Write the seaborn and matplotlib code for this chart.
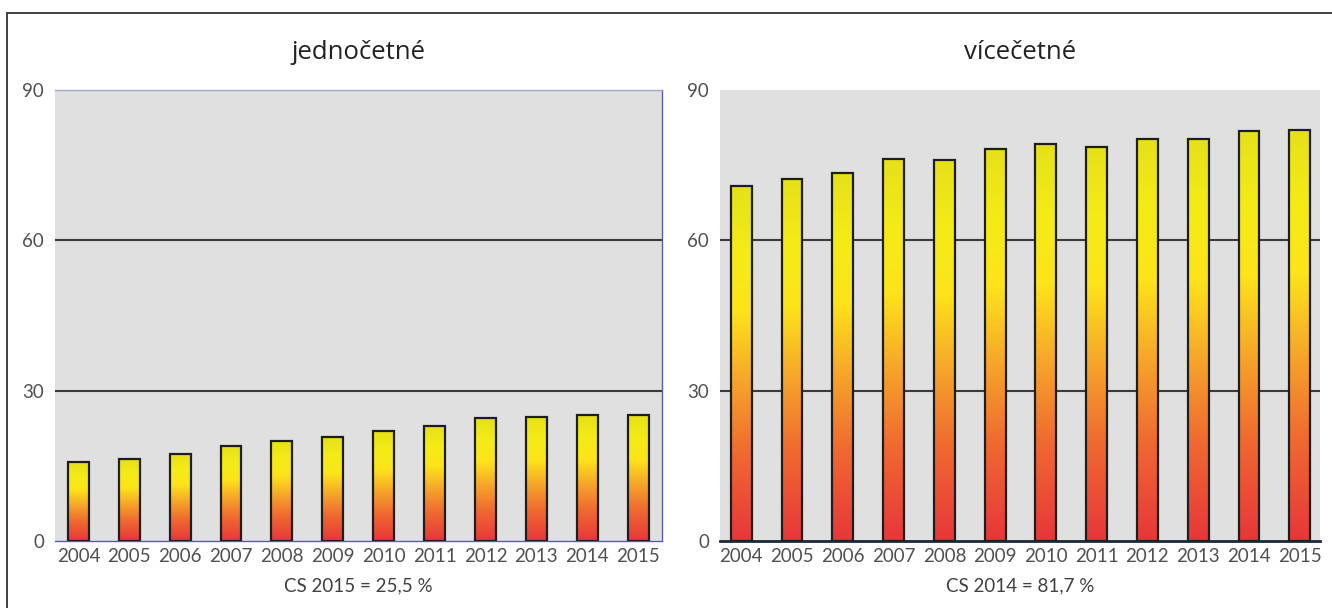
import numpy as np
import pandas as pd
import matplotlib
matplotlib.use("Agg")
import matplotlib.pyplot as plt
from matplotlib.colors import LinearSegmentedColormap
from matplotlib.patches import Rectangle
import seaborn as sns

# ==========================================
# Data
# ==========================================

years = ["2004", "2005", "2006", "2007", "2008", "2009",
         "2010", "2011", "2012", "2013", "2014", "2015"]

single_values = [15.7, 16.3, 17.3, 18.9, 20.0, 20.7,
                 22.0, 23.0, 24.5, 24.8, 25.1, 25.1]

multiple_values = [70.8, 72.2, 73.5, 76.3, 76.0, 78.3,
                   79.3, 78.7, 80.3, 80.3, 81.8, 82.1]

panel_titles = ["jednočetné", "vícečetné"]
panel_notes = ["CS 2015 = 25,5 %", "CS 2014 = 81,7 %"]

y_ticks = [0, 30, 60, 90]
grid_levels = [30, 60]

# ==========================================
# Style
# ==========================================

sns.set_theme(style="white")
plt.rcParams["font.family"] = ["Lato", "DejaVu Sans"]

bar_cmap = LinearSegmentedColormap.from_list(
    "bar_grad",
    [
        (0.00, "#e8363a"),
        (0.25, "#f06a30"),
        (0.45, "#f6a52a"),
        (0.65, "#fde41a"),
        (0.82, "#f4ec16"),
        (1.00, "#e6e01a"),
    ]
)
gradient = np.linspace(0, 1, 256).reshape(-1, 1)

fig = plt.figure(figsize=(13.32, 6.08), dpi=100)

# outer frame
fig.patches.append(Rectangle(
    (7 / 1332, -0.1), 1.2, 1 - 13 / 608 + 0.1,
    transform=fig.transFigure, fill=False,
    edgecolor="#333333", linewidth=1.3
))

ax_left = fig.add_axes([55 / 1332, 1 - 541 / 608, 607 / 1332, 451 / 608])
ax_right = fig.add_axes([720 / 1332, 1 - 541 / 608, 600 / 1332, 451 / 608])

panels = [
    (ax_left, single_values, (-0.46, 11.47)),
    (ax_right, multiple_values, (-0.42, 11.40)),
]

for i, (ax, values, xlim) in enumerate(panels):
    df = pd.DataFrame({"year": years, "value": values})

    ax.set_facecolor("#e0e0e1")

    for level in grid_levels:
        ax.axhline(level, color="#3a3a3a", linewidth=1.5, zorder=0.5)

    sns.barplot(
        data=df,
        x="year",
        y="value",
        order=years,
        width=0.41,
        color="#f6a52a",
        edgecolor="#1e1e1e",
        linewidth=1.6,
        ax=ax,
        zorder=3
    )

    # vertical gradient inside every bar
    for patch in ax.patches:
        x0 = patch.get_x()
        w = patch.get_width()
        h = patch.get_height()
        im = ax.imshow(
            gradient,
            extent=[x0, x0 + w, 0, h],
            origin="lower",
            aspect="auto",
            cmap=bar_cmap,
            zorder=2.5
        )
        im.set_clip_path(patch)
        patch.set_facecolor("none")

    ax.set_xlim(*xlim)
    ax.set_ylim(0, 90)
    ax.set_yticks(y_ticks)
    ax.set_xlabel("")
    ax.set_ylabel("")
    ax.tick_params(axis="both", length=0, labelsize=13.5,
                   labelcolor="#505050")
    ax.tick_params(axis="y", pad=8)
    ax.tick_params(axis="x", pad=5)

    ax.set_title(panel_titles[i], fontsize=18.5, color="#222222",
                 pad=22, family=["Open Sans", "DejaVu Sans"])
    ax.text(0.5, -0.08, panel_notes[i], transform=ax.transAxes,
            ha="center", va="top", fontsize=13.5, color="#404040")

    for side in ["top", "right", "left", "bottom"]:
        ax.spines[side].set_visible(False)

# left panel has a thin bluish frame on top, right and bottom
for side in ["top", "right", "bottom"]:
    ax_left.spines[side].set_visible(True)
    ax_left.spines[side].set_color("#5a5ea8")
    ax_left.spines[side].set_linewidth(1.0)
ax_left.spines["top"].set_color("#a4a8c8")

# right panel has a dark base line
ax_right.spines["bottom"].set_visible(True)
ax_right.spines["bottom"].set_color("#1c2838")
ax_right.spines["bottom"].set_linewidth(2.0)

plt.savefig("out.png", dpi=100)
